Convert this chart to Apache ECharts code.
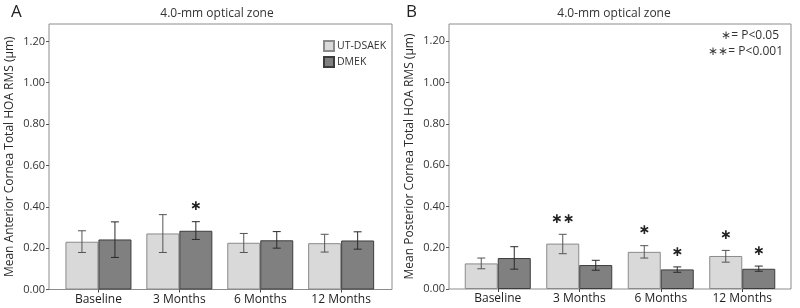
<!DOCTYPE html>
<html>
<head>
<meta charset="utf-8">
<script src="https://cdn.jsdelivr.net/npm/echarts@6/dist/echarts.min.js"></script>
<style>
  html, body { margin: 0; padding: 0; background: #fff; }
  #chart { width: 800px; height: 308px; }
</style>
</head>
<body>
<div id="chart"></div>
<script>
const categories = ['Baseline', '3 Months', '6 Months', '12 Months']
const yTicks = [0, 0.2, 0.4, 0.6, 0.8, 1.0, 1.2]

// A: anterior cornea
const antUt = [0.231, 0.271, 0.226, 0.224]
const antUtLow = [0.179, 0.179, 0.179, 0.181]
const antUtHigh = [0.284, 0.362, 0.271, 0.267]
const antDmek = [0.242, 0.284, 0.238, 0.237]
const antDmekLow = [0.155, 0.242, 0.200, 0.195]
const antDmekHigh = [0.327, 0.328, 0.280, 0.279]
const antUtSig = ['', '', '', '']
const antDmekSig = ['', '*', '', '']

// B: posterior cornea
const postUt = [0.124, 0.220, 0.180, 0.160]
const postUtLow = [0.098, 0.171, 0.150, 0.130]
const postUtHigh = [0.150, 0.265, 0.210, 0.187]
const postDmek = [0.150, 0.116, 0.095, 0.098]
const postDmekLow = [0.096, 0.091, 0.081, 0.086]
const postDmekHigh = [0.205, 0.139, 0.107, 0.111]
const postUtSig = ['', '**', '*', '*']
const postDmekSig = ['', '', '*', '*']

const FONT = 'Open Sans'
const TXT = '#333'
const BAR_W = 33
const STAR = '\u2217'

const chart = echarts.init(document.getElementById('chart'))

function frameAxes (gi, name) {
  return {
    x: { gridIndex: gi, type: 'category', data: categories, show: false },
    y: {
      gridIndex: gi, type: 'value', min: 0, max: 1.284,
      name: name, nameLocation: 'middle', nameGap: 33,
      nameTextStyle: { fontFamily: FONT, fontSize: 12, color: '#2a2a2a' },
      axisLine: { show: false },
      splitLine: { show: false },
      axisTick: { show: true, length: 3, lineStyle: { color: '#555' }, customValues: yTicks },
      axisLabel: { fontFamily: FONT, fontSize: 11, color: TXT, margin: 4, customValues: yTicks,
        formatter: v => v.toFixed(2) }
    }
  }
}

function innerAxes (gi) {
  return {
    x: {
      gridIndex: gi, type: 'category', data: categories,
      axisLine: { show: false },
      axisTick: { show: true, alignWithLabel: true, length: 3, lineStyle: { color: '#444' } },
      axisLabel: { fontFamily: FONT, fontSize: 12, color: '#222', margin: 4 }
    },
    y: { gridIndex: gi, type: 'value', min: 0, max: 1.284, show: false, splitLine: { show: false } }
  }
}

function errData (mean, low, high, sig) {
  return mean.map((m, i) => [i, m, low[i], high[i], sig[i]])
}

function errSeries (axisIdx, data, side, color) {
  return {
    type: 'custom',
    xAxisIndex: axisIdx,
    yAxisIndex: axisIdx,
    data: data,
    z: 5,
    renderItem (params, api) {
      const i = api.value(0)
      const lo = api.coord([i, api.value(2)])
      const hi = api.coord([i, api.value(3)])
      const cx = lo[0] + side * BAR_W / 2
      const cap = 4
      const children = [
        { type: 'line', shape: { x1: cx, y1: hi[1], x2: cx, y2: lo[1] }, style: { stroke: color, lineWidth: 1 } },
        { type: 'line', shape: { x1: cx - cap, y1: hi[1], x2: cx + cap, y2: hi[1] }, style: { stroke: color, lineWidth: 1 } },
        { type: 'line', shape: { x1: cx - cap, y1: lo[1], x2: cx + cap, y2: lo[1] }, style: { stroke: color, lineWidth: 1 } }
      ]
      const sig = data[params.dataIndex][4]
      if (sig) {
        children.push({
          type: 'text',
          style: {
            x: cx, y: hi[1] - 15,
            text: sig.replace(/\*/g, STAR),
            fill: '#222',
            font: 'bold 14px "DejaVu Sans"',
            align: 'center', verticalAlign: 'middle'
          }
        })
      }
      return { type: 'group', children }
    }
  }
}

function barSeries (axisIdx, name, data, fill, border) {
  return {
    type: 'bar', name: name,
    xAxisIndex: axisIdx, yAxisIndex: axisIdx,
    data: data,
    barWidth: BAR_W, barGap: '0%',
    itemStyle: { color: fill, borderColor: border, borderWidth: 1 }
  }
}

const fA = frameAxes(0, 'Mean Anterior Cornea Total HOA RMS (\u00b5m)')
const iA = innerAxes(1)
const fB = frameAxes(2, 'Mean Posterior Cornea Total HOA RMS (\u00b5m)')
const iB = innerAxes(3)

const utFill = '#d9d9d9'
const utBorder = '#8a8a8a'
const dmFill = '#808080'
const dmBorder = '#3c3c3c'

const option = {
  animation: false,
  backgroundColor: '#fff',
  grid: [
    { left: 49, top: 24, width: 343, height: 265.5, show: true, borderColor: '#8c8c8c', borderWidth: 1, backgroundColor: 'transparent' },
    { left: 58, top: 24, width: 323.6, height: 265.5 },
    { left: 449, top: 24, width: 342, height: 265, show: true, borderColor: '#8c8c8c', borderWidth: 1, backgroundColor: 'transparent' },
    { left: 457, top: 24, width: 326, height: 265 }
  ],
  xAxis: [fA.x, iA.x, fB.x, iB.x],
  yAxis: [fA.y, iA.y, fB.y, iB.y],
  legend: {
    left: 318, top: 35, orient: 'vertical',
    itemWidth: 10, itemHeight: 10, itemGap: 4,
    icon: 'rect',
    data: ['UT-DSAEK', 'DMEK'],
    textStyle: { fontFamily: FONT, fontSize: 10.5, color: TXT, padding: [0, 0, 0, -2] }
  },
  graphic: [
    { type: 'text', left: 11, top: 4, style: { text: 'A', font: '17px "Open Sans"', fill: '#222' } },
    { type: 'text', left: 406, top: 4, style: { text: 'B', font: '17px "Open Sans"', fill: '#222' } },
    { type: 'text', x: 217, y: 14, style: { text: '4.0-mm optical zone', font: '12px "Open Sans"', fill: TXT, align: 'center', verticalAlign: 'middle' } },
    { type: 'text', x: 614, y: 14, style: { text: '4.0-mm optical zone', font: '12px "Open Sans"', fill: TXT, align: 'center', verticalAlign: 'middle' } },
    { type: 'text', x: 779, y: 36, style: { text: STAR + '= P<0.05', font: '12px "Open Sans"', fill: TXT, align: 'right', verticalAlign: 'middle' } },
    { type: 'text', x: 783, y: 52, style: { text: STAR + STAR + '= P<0.001', font: '12px "Open Sans"', fill: TXT, align: 'right', verticalAlign: 'middle' } }
  ],
  series: [
    barSeries(1, 'UT-DSAEK', antUt, utFill, utBorder),
    barSeries(1, 'DMEK', antDmek, dmFill, dmBorder),
    errSeries(1, errData(antUt, antUtLow, antUtHigh, antUtSig), -1, '#555'),
    errSeries(1, errData(antDmek, antDmekLow, antDmekHigh, antDmekSig), 1, '#2a2a2a'),
    barSeries(3, 'UT-DSAEK', postUt, utFill, utBorder),
    barSeries(3, 'DMEK', postDmek, dmFill, dmBorder),
    errSeries(3, errData(postUt, postUtLow, postUtHigh, postUtSig), -1, '#555'),
    errSeries(3, errData(postDmek, postDmekLow, postDmekHigh, postDmekSig), 1, '#2a2a2a')
  ]
}

chart.setOption(option)
</script>
</body>
</html>
